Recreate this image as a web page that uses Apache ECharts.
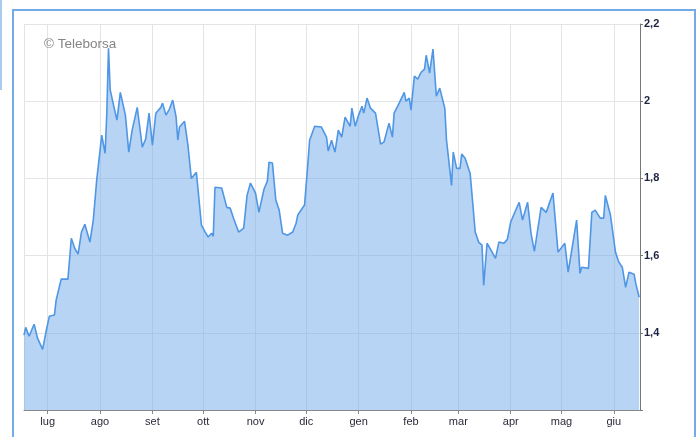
<!DOCTYPE html>
<html>
<head>
<meta charset="utf-8">
<script src="https://cdn.jsdelivr.net/npm/echarts@6/dist/echarts.min.js"></script>
<style>
html,body{margin:0;padding:0;background:#fff;}
#chart{width:700px;height:437px;}
</style>
</head>
<body>
<div id="chart"></div>
<script>
const monthNames = ['gen','feb','mar','apr','mag','giu','lug','ago','set','ott','nov','dic'];
const yTicks = [1.2, 1.4, 1.6, 1.8, 2.0, 2.2];

const dates = [
 '2024-06-17','2024-06-18','2024-06-20','2024-06-23','2024-06-25','2024-06-28','2024-06-30',
 '2024-07-02','2024-07-05','2024-07-06','2024-07-09','2024-07-13','2024-07-15','2024-07-17','2024-07-19','2024-07-21','2024-07-23','2024-07-26','2024-07-28','2024-07-30',
 '2024-08-02','2024-08-03','2024-08-04','2024-08-05','2024-08-06','2024-08-07','2024-08-09','2024-08-11','2024-08-13','2024-08-16','2024-08-18','2024-08-20','2024-08-21','2024-08-23','2024-08-26','2024-08-28','2024-08-30',
 '2024-09-01','2024-09-03','2024-09-06','2024-09-07','2024-09-09','2024-09-11','2024-09-13','2024-09-15','2024-09-16','2024-09-17','2024-09-20','2024-09-22','2024-09-24','2024-09-27','2024-09-30',
 '2024-10-02','2024-10-04','2024-10-06','2024-10-07','2024-10-08','2024-10-12','2024-10-15','2024-10-17','2024-10-19','2024-10-22','2024-10-25','2024-10-27','2024-10-29',
 '2024-11-01','2024-11-03','2024-11-06','2024-11-08','2024-11-09','2024-11-11','2024-11-13','2024-11-15','2024-11-17','2024-11-20','2024-11-23','2024-11-25','2024-11-26','2024-11-30',
 '2024-12-02','2024-12-03','2024-12-06','2024-12-10','2024-12-13','2024-12-14','2024-12-16','2024-12-18','2024-12-20','2024-12-22','2024-12-24','2024-12-27','2024-12-28','2024-12-30',
 '2025-01-01','2025-01-03','2025-01-04','2025-01-06','2025-01-08','2025-01-11','2025-01-14','2025-01-16','2025-01-19','2025-01-21','2025-01-22','2025-01-25','2025-01-28','2025-01-29','2025-01-31',
 '2025-02-01','2025-02-03','2025-02-05','2025-02-07','2025-02-09','2025-02-10','2025-02-12','2025-02-14','2025-02-16','2025-02-18','2025-02-21','2025-02-22','2025-02-25','2025-02-26','2025-02-28',
 '2025-03-02','2025-03-03','2025-03-05','2025-03-08','2025-03-11','2025-03-13','2025-03-15','2025-03-16','2025-03-18','2025-03-21','2025-03-23','2025-03-25','2025-03-28','2025-03-30',
 '2025-04-01','2025-04-04','2025-04-06','2025-04-08','2025-04-09','2025-04-11','2025-04-13','2025-04-15','2025-04-19','2025-04-20','2025-04-22','2025-04-26','2025-04-29',
 '2025-05-03','2025-05-05','2025-05-10','2025-05-12','2025-05-13','2025-05-17','2025-05-19','2025-05-21','2025-05-24','2025-05-26','2025-05-27','2025-05-30',
 '2025-06-02','2025-06-04','2025-06-06','2025-06-08','2025-06-10','2025-06-13','2025-06-14','2025-06-16'
];

const prices = [
 1.394,1.414,1.391,1.422,1.386,1.357,1.402,
 1.443,1.446,1.484,1.539,1.539,1.645,1.619,1.604,1.661,1.681,1.635,1.692,1.795,
 1.912,1.912,1.865,1.969,2.137,2.029,1.990,1.951,2.023,1.964,1.868,1.925,1.927,1.984,1.881,1.902,1.969,
 1.886,1.969,1.984,1.995,1.964,1.979,2.003,1.959,1.899,1.933,1.948,1.886,1.800,1.816,1.679,
 1.663,1.648,1.658,1.650,1.777,1.775,1.725,1.723,1.697,1.661,1.671,1.756,1.788,
 1.762,1.712,1.772,1.793,1.842,1.840,1.744,1.718,1.658,1.653,1.661,1.684,1.705,1.731,
 1.840,1.899,1.935,1.933,1.907,1.871,1.899,1.868,1.925,1.907,1.959,1.935,1.982,1.935,
 1.964,1.987,1.969,2.008,1.982,1.969,1.889,1.894,1.943,1.907,1.969,1.995,2.023,2.000,2.008,
 1.977,2.065,2.057,2.075,2.083,2.119,2.073,2.135,2.013,2.034,1.982,1.899,1.782,1.868,1.826,
 1.826,1.863,1.852,1.813,1.661,1.635,1.627,1.523,1.632,1.609,1.593,1.635,1.632,1.642,
 1.687,1.718,1.738,1.692,1.694,1.738,1.658,1.611,1.725,1.728,1.712,1.762,1.609,
 1.632,1.557,1.692,1.554,1.570,1.567,1.712,1.718,1.697,1.697,1.756,1.705,
 1.609,1.583,1.570,1.518,1.557,1.552,1.528,1.492
];

const xMin = '2024-06-17';
const xMax = '2025-06-16 12:00';

const chart = echarts.init(document.getElementById('chart'), null, {renderer: 'canvas'});
const gridColor = '#e4e4e4';
chart.setOption({
  animation: false,
  backgroundColor: '#ffffff',
  grid: {left: 24, right: 60, top: 24, bottom: 27, containLabel: false},
  xAxis: {
    type: 'time',
    min: xMin,
    max: xMax,
    splitNumber: 12,
    axisLine: {show: true, lineStyle: {color: '#888888', width: 1}},
    axisTick: {show: true, length: 4, lineStyle: {color: '#888888'}},
    axisLabel: {
      color: '#2a2a3a', fontSize: 11, fontFamily: 'Liberation Sans, Arial, sans-serif', margin: 6,
      hideOverlap: false,
      formatter: function (v) { return monthNames[new Date(v).getMonth()]; }
    },
    splitLine: {show: true, lineStyle: {color: gridColor, width: 1}}
  },
  yAxis: {
    type: 'value',
    position: 'right',
    min: yTicks[0],
    max: yTicks[yTicks.length - 1],
    interval: 0.2,
    axisLine: {show: true, lineStyle: {color: '#777777', width: 1}},
    axisTick: {show: true, length: 3, lineStyle: {color: '#777777'}},
    axisLabel: {
      color: '#1c2340', fontSize: 11, fontWeight: 'bold', fontFamily: 'Liberation Sans, Arial, sans-serif', margin: 4,
      formatter: function (v) {
        const r = parseFloat(v.toFixed(1));
        if (r <= yTicks[0]) return '';
        return String(r).replace('.', ',');
      }
    },
    splitLine: {show: true, lineStyle: {color: gridColor, width: 1}}
  },
  graphic: [
    {type: 'rect', z: 100, silent: true,
     shape: {x: 13, y: 10, width: 682, height: 440},
     style: {fill: 'none', stroke: '#74aae6', lineWidth: 2}},
    {type: 'rect', z: 100, silent: true,
     shape: {x: 0, y: 0, width: 2, height: 90},
     style: {fill: '#a9cbf0'}},
    {type: 'text', x: 44, y: 37, z: 100, silent: true,
     style: {text: '© Teleborsa', fill: '#858585', font: '13.5px "Liberation Sans", Arial, sans-serif'}}
  ],
  series: [{
    type: 'line',
    data: dates.map((d, i) => [d, prices[i]]),
    symbol: 'none',
    smooth: false,
    lineStyle: {color: '#4f96e5', width: 1.6},
    areaStyle: {color: 'rgba(112,170,233,0.5)', opacity: 1, origin: 'start'},
    z: 2
  }]
});
</script>
</body>
</html>
